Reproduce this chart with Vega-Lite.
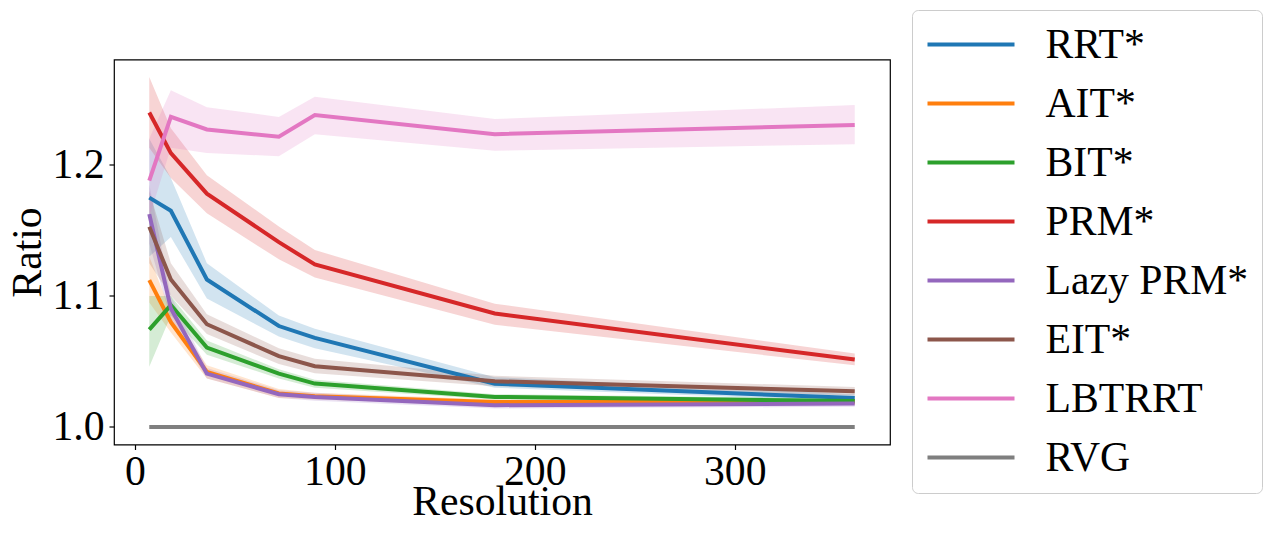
{
  "$schema": "https://vega.github.io/schema/vega-lite/v6.json",
  "autosize": {"type": "none"},
  "padding": {"left": 114, "top": 59.5, "right": 383, "bottom": 101.5},
  "width": 776,
  "height": 385,
  "config": {
    "font": "Liberation Serif",
    "view": {"stroke": "#000000", "strokeWidth": 1.2},
    "axis": {"grid": false, "domain": false, "tickColor": "#000", "tickSize": 5, "tickWidth": 1.2, "labelFont": "Liberation Serif", "labelFontSize": 41.7, "labelColor": "#000", "titleFont": "Liberation Serif", "titleFontSize": 41.7, "titleFontWeight": "normal", "titleColor": "#000"},
    "legend": {"labelFont": "Liberation Serif", "labelFontSize": 41.7, "labelColor": "#000", "labelLimit": 400, "symbolType": "stroke", "symbolStrokeWidth": 4, "symbolSize": 7569, "symbolOpacity": 1, "labelOffset": 29, "rowPadding": 16, "padding": 13.5, "clipHeight": 42, "strokeColor": "#cccccc", "fillColor": "#ffffff", "cornerRadius": 6}
  },
  "data": {
    "values": [
      {"alg": "RRT*", "res": 7.2, "mean": 1.175, "lo": 1.13, "hi": 1.22},
      {"alg": "RRT*", "res": 18, "mean": 1.165, "lo": 1.145, "hi": 1.19},
      {"alg": "RRT*", "res": 36, "mean": 1.1125, "lo": 1.098, "hi": 1.125},
      {"alg": "RRT*", "res": 72, "mean": 1.077, "lo": 1.069, "hi": 1.085},
      {"alg": "RRT*", "res": 90, "mean": 1.068, "lo": 1.06, "hi": 1.075},
      {"alg": "RRT*", "res": 180, "mean": 1.033, "lo": 1.03, "hi": 1.038},
      {"alg": "RRT*", "res": 360, "mean": 1.022, "lo": 1.0195, "hi": 1.025},
      {"alg": "AIT*", "res": 7.2, "mean": 1.112, "lo": 1.095, "hi": 1.13},
      {"alg": "AIT*", "res": 18, "mean": 1.08, "lo": 1.072, "hi": 1.088},
      {"alg": "AIT*", "res": 36, "mean": 1.042, "lo": 1.037, "hi": 1.047},
      {"alg": "AIT*", "res": 72, "mean": 1.0255, "lo": 1.022, "hi": 1.029},
      {"alg": "AIT*", "res": 90, "mean": 1.0234, "lo": 1.021, "hi": 1.026},
      {"alg": "AIT*", "res": 180, "mean": 1.019, "lo": 1.017, "hi": 1.021},
      {"alg": "AIT*", "res": 360, "mean": 1.019, "lo": 1.017, "hi": 1.021},
      {"alg": "BIT*", "res": 7.2, "mean": 1.0743, "lo": 1.046, "hi": 1.1},
      {"alg": "BIT*", "res": 18, "mean": 1.093, "lo": 1.085, "hi": 1.1},
      {"alg": "BIT*", "res": 36, "mean": 1.0606, "lo": 1.055, "hi": 1.066},
      {"alg": "BIT*", "res": 72, "mean": 1.0407, "lo": 1.037, "hi": 1.044},
      {"alg": "BIT*", "res": 90, "mean": 1.0331, "lo": 1.03, "hi": 1.036},
      {"alg": "BIT*", "res": 180, "mean": 1.0229, "lo": 1.021, "hi": 1.025},
      {"alg": "BIT*", "res": 360, "mean": 1.0198, "lo": 1.018, "hi": 1.0215},
      {"alg": "PRM*", "res": 7.2, "mean": 1.24, "lo": 1.213, "hi": 1.267},
      {"alg": "PRM*", "res": 18, "mean": 1.209, "lo": 1.19, "hi": 1.228},
      {"alg": "PRM*", "res": 36, "mean": 1.178, "lo": 1.163, "hi": 1.192},
      {"alg": "PRM*", "res": 72, "mean": 1.141, "lo": 1.128, "hi": 1.153},
      {"alg": "PRM*", "res": 90, "mean": 1.124, "lo": 1.114, "hi": 1.135},
      {"alg": "PRM*", "res": 180, "mean": 1.0866, "lo": 1.078, "hi": 1.094},
      {"alg": "PRM*", "res": 360, "mean": 1.0514, "lo": 1.047, "hi": 1.056},
      {"alg": "Lazy PRM*", "res": 7.2, "mean": 1.1624, "lo": 1.14, "hi": 1.185},
      {"alg": "Lazy PRM*", "res": 18, "mean": 1.0904, "lo": 1.082, "hi": 1.1},
      {"alg": "Lazy PRM*", "res": 36, "mean": 1.0407, "lo": 1.037, "hi": 1.045},
      {"alg": "Lazy PRM*", "res": 72, "mean": 1.025, "lo": 1.022, "hi": 1.028},
      {"alg": "Lazy PRM*", "res": 90, "mean": 1.0229, "lo": 1.02, "hi": 1.026},
      {"alg": "Lazy PRM*", "res": 180, "mean": 1.0166, "lo": 1.014, "hi": 1.019},
      {"alg": "Lazy PRM*", "res": 360, "mean": 1.0179, "lo": 1.0155, "hi": 1.02},
      {"alg": "EIT*", "res": 7.2, "mean": 1.1527, "lo": 1.125, "hi": 1.18},
      {"alg": "EIT*", "res": 18, "mean": 1.1125, "lo": 1.1, "hi": 1.125},
      {"alg": "EIT*", "res": 36, "mean": 1.0784, "lo": 1.071, "hi": 1.086},
      {"alg": "EIT*", "res": 72, "mean": 1.054, "lo": 1.048, "hi": 1.06},
      {"alg": "EIT*", "res": 90, "mean": 1.0463, "lo": 1.041, "hi": 1.052},
      {"alg": "EIT*", "res": 180, "mean": 1.0349, "lo": 1.031, "hi": 1.039},
      {"alg": "EIT*", "res": 360, "mean": 1.0272, "lo": 1.024, "hi": 1.0305},
      {"alg": "LBTRRT", "res": 7.2, "mean": 1.188, "lo": 1.16, "hi": 1.22},
      {"alg": "LBTRRT", "res": 18, "mean": 1.2366, "lo": 1.213, "hi": 1.257},
      {"alg": "LBTRRT", "res": 36, "mean": 1.227, "lo": 1.209, "hi": 1.244},
      {"alg": "LBTRRT", "res": 72, "mean": 1.2214, "lo": 1.2066, "hi": 1.2366},
      {"alg": "LBTRRT", "res": 90, "mean": 1.238, "lo": 1.2234, "hi": 1.252},
      {"alg": "LBTRRT", "res": 180, "mean": 1.2234, "lo": 1.2107, "hi": 1.235},
      {"alg": "LBTRRT", "res": 360, "mean": 1.2305, "lo": 1.2158, "hi": 1.2456},
      {"alg": "RVG", "res": 7.2, "mean": 1.0, "lo": 1.0, "hi": 1.0},
      {"alg": "RVG", "res": 18, "mean": 1.0, "lo": 1.0, "hi": 1.0},
      {"alg": "RVG", "res": 36, "mean": 1.0, "lo": 1.0, "hi": 1.0},
      {"alg": "RVG", "res": 72, "mean": 1.0, "lo": 1.0, "hi": 1.0},
      {"alg": "RVG", "res": 90, "mean": 1.0, "lo": 1.0, "hi": 1.0},
      {"alg": "RVG", "res": 180, "mean": 1.0, "lo": 1.0, "hi": 1.0},
      {"alg": "RVG", "res": 360, "mean": 1.0, "lo": 1.0, "hi": 1.0}
    ]
  },
  "encoding": {
    "x": {"field": "res", "type": "quantitative", "scale": {"domain": [-10.44, 377.64], "nice": false, "zero": false},
      "axis": {"values": [0, 100, 200, 300], "title": "Resolution", "labelPadding": 2, "titleX": 388, "titleY": 69.5, "titleBaseline": "alphabetic", "titleAlign": "center"}},
    "color": {"field": "alg", "type": "nominal",
      "scale": {"domain": ["RRT*", "AIT*", "BIT*", "PRM*", "Lazy PRM*", "EIT*", "LBTRRT", "RVG"],
        "range": ["#1f77b4", "#ff7f0e", "#2ca02c", "#d62728", "#9467bd", "#8c564b", "#e377c2", "#7f7f7f"]},
      "legend": {"title": null, "orient": "none", "legendX": 798, "legendY": -49.5}}
  },
  "layer": [
    {
      "mark": {"type": "area", "fillOpacity": 0.2},
      "encoding": {
        "y": {"field": "lo", "type": "quantitative", "scale": {"domain": [0.9866, 1.2804], "nice": false, "zero": false},
          "axis": {"values": [1.0, 1.1, 1.2], "format": ".1f", "title": "Ratio", "labelPadding": 5, "titleX": -87, "titleY": 192.5, "titleAngle": 270, "titleBaseline": "middle", "titleAlign": "center"}},
        "y2": {"field": "hi"}
      }
    },
    {
      "mark": {"type": "line", "strokeWidth": 4},
      "encoding": {
        "y": {"field": "mean", "type": "quantitative"}
      }
    }
  ]
}
